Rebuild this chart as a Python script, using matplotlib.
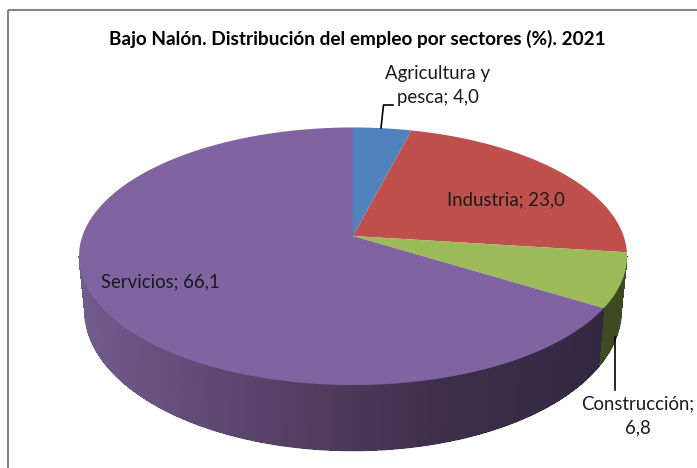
import numpy as np
import matplotlib
matplotlib.use("Agg")
import matplotlib.pyplot as plt

# Datos
sectores = ['Agricultura y\npesca', 'Industria', 'Construcción;\n', 'Servicios']
valores = [4.0, 23.0, 6.8, 66.1]
valores_txt = ['4,0', '23,0', '6,8', '66,1']
colores = ['#4f81bd', '#c0504d', '#9bbb59', '#8064a2']
titulo = 'Bajo Nalón. Distribución del empleo por sectores (%). 2021'

plt.rcParams['font.family'] = ['Lato', 'DejaVu Sans']

# Perspectiva de la tarta (en pixeles)
cx = 353
k = 0.1572


def tapa(theta):
    w = 1 + k * np.cos(theta)
    return cx + 270.6 * np.sin(theta) / w, 236 - 125.6 * np.cos(theta) / w


def base(theta):
    w = 1 + k * np.cos(theta)
    return cx + 265 * np.sin(theta) / w, 288 - 137 * np.cos(theta) / w


fig = plt.figure(figsize=(6.97, 4.68), dpi=100)
ax = fig.add_axes([0, 0, 1, 1])
ax.set_xlim(0, 697)
ax.set_ylim(468, 0)
ax.axis('off')

# Borde del grafico
ax.plot([8, 8], [468, 10], color='#868686', lw=1.5, solid_capstyle='butt')
ax.plot([8, 697], [10, 10], color='#868686', lw=1.5, solid_capstyle='butt')

limites = 2 * np.pi * np.cumsum([0] + valores) / sum(valores)

# Lateral: Construccion y Servicios se ven de frente
t = np.linspace(np.radians(99), np.radians(261), 400)
corte = limites[3]
pos = [80, 200, 300, 450, 610]
for a, b in zip(t[:-1], t[1:]):
    xa, ya = tapa(a)
    xb, yb = tapa(b)
    xc, yc = base(b)
    xd, yd = base(a)
    xm = (xa + xb) / 2
    if (a + b) / 2 < corte:
        color = '#3f4a22'
    else:
        r = np.interp(xm, pos, [0x70, 0x60, 0x52, 0x3c, 0x32])
        g = np.interp(xm, pos, [0x5b, 0x4b, 0x3e, 0x2e, 0x28])
        bl = np.interp(xm, pos, [0x8d, 0x76, 0x61, 0x4a, 0x40])
        color = (r / 255, g / 255, bl / 255)
    # sin antialias para que no se vean costuras entre tiras
    ax.fill([xa, xb, xc, xd], [ya, yb, yc, yd], color=color, lw=0, antialiased=False, zorder=2)
    ax.plot([xc, xd], [yc, yd], color=color, lw=1, solid_capstyle='butt', zorder=2, snap=False)

# Tapa de la tarta
for i in range(len(valores)):
    th = np.linspace(limites[i], limites[i + 1], 200)
    xs, ys = tapa(th)
    ax.fill(np.r_[cx, xs], np.r_[236, ys], color=colores[i], lw=0, zorder=3)

# Lineas guia
ax.plot([381, 383.5, 393], [128, 105, 105], color='black', lw=1.2, zorder=4)
ax.plot([614.5, 614.5], [337, 390], color='black', lw=1.2, zorder=4)

# Textos
ax.text(357.5, 38.5, titulo, ha='center', va='center', fontsize=13.7, fontweight='bold', color='black')
tc = '#1a1a1a'
fs = 13.4
ax.text(437.5, 74, sectores[0].split('\n')[0], ha='center', va='center', fontsize=fs, color=tc)
ax.text(438, 97, sectores[0].split('\n')[1] + '; ' + valores_txt[0], ha='center', va='center', fontsize=fs, color=tc)
ax.text(506, 200, sectores[1] + '; ' + valores_txt[1], ha='center', va='center', fontsize=fs, color=tc)
ax.text(638, 404, sectores[2].strip(), ha='center', va='center', fontsize=fs, color=tc)
ax.text(638, 428, valores_txt[2], ha='center', va='center', fontsize=fs, color=tc)
ax.text(160.5, 282, sectores[3] + '; ' + valores_txt[3], ha='center', va='center', fontsize=fs, color=tc)

fig.savefig('out.png', dpi=100, facecolor='white')
